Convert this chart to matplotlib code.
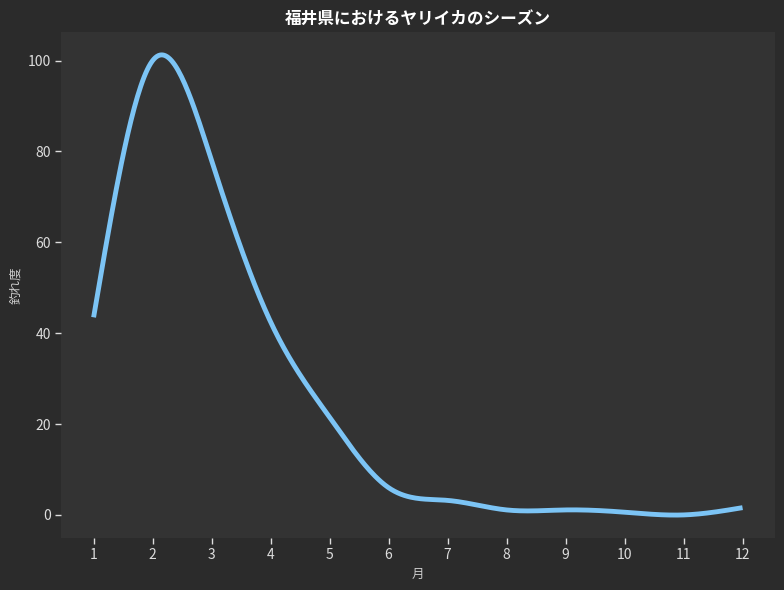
import numpy as np
import matplotlib
matplotlib.use("Agg")
import matplotlib.pyplot as plt

plt.rcParams['font.family'] = ['Noto Sans CJK JP', 'DejaVu Sans']

months = [1, 2, 3, 4, 5, 6, 7, 8, 9, 10, 11, 12]
score = [43.5, 100, 78, 42.5, 21.5, 6, 3.2, 1.1, 1.1, 0.6, 0, 1.6]

title = '福井県におけるヤリイカのシーズン'
xlabel = '月'
ylabel = '釣れ度'


def spline_curve(x, y, num=400):
    # natural cubic spline (uniform spacing)
    x = np.asarray(x, float)
    y = np.asarray(y, float)
    n = len(x)
    h = x[1] - x[0]
    A = np.zeros((n, n))
    b = np.zeros(n)
    A[0, 0] = 1
    A[-1, -1] = 1
    for i in range(1, n - 1):
        A[i, i - 1:i + 2] = [h, 4 * h, h]
        b[i] = 6 * (y[i + 1] - 2 * y[i] + y[i - 1]) / h
    M = np.linalg.solve(A, b)
    xs = np.linspace(x[0], x[-1], num)
    idx = np.clip(((xs - x[0]) // h).astype(int), 0, n - 2)
    x0 = x[idx]
    x1 = x[idx + 1]
    ys = (M[idx] * (x1 - xs) ** 3 / (6 * h) + M[idx + 1] * (xs - x0) ** 3 / (6 * h)
          + (y[idx] / h - M[idx] * h / 6) * (x1 - xs)
          + (y[idx + 1] / h - M[idx + 1] * h / 6) * (xs - x0))
    return xs, ys


xs, ys = spline_curve(months, score)

fig = plt.figure(figsize=(7.84, 5.9), dpi=100, facecolor='#2b2b2b')
ax = fig.add_axes([0.078, 0.088, 0.9105, 0.858])
ax.set_facecolor('#333333')
ax.plot(xs, ys, color='#7cc4f5', linewidth=3.5, solid_capstyle='butt')

ax.set_xticks(months)
ax.tick_params(colors='#dddddd', labelsize=10, length=4, width=1)
for s in ax.spines.values():
    s.set_visible(False)

ax.set_title(title, color='white', fontsize=12, fontweight='bold', pad=6)
ax.set_xlabel(xlabel, color='#cccccc', fontsize=9)
ax.set_ylabel(ylabel, color='#cccccc', fontsize=9)

fig.savefig('out.png', dpi=100, facecolor=fig.get_facecolor())
